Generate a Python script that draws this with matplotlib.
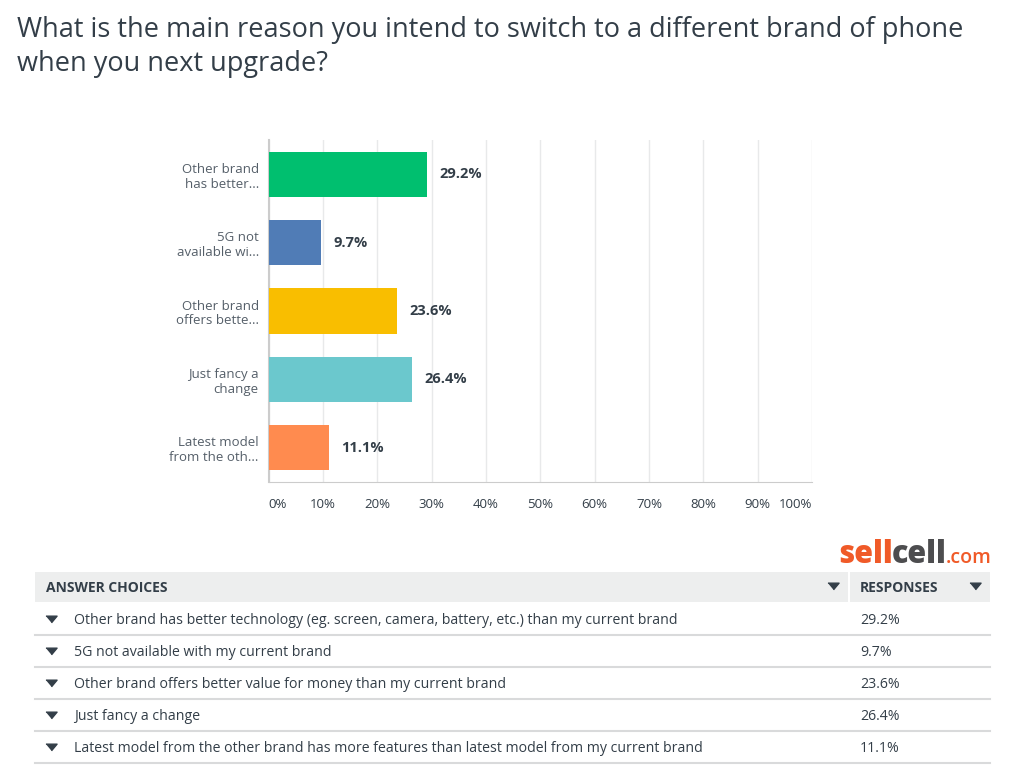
import matplotlib
matplotlib.use("Agg")
import matplotlib.pyplot as plt
from matplotlib.patches import Rectangle
from matplotlib.lines import Line2D

plt.rcParams['font.family'] = ['Open Sans', 'DejaVu Sans']

title = "What is the main reason you intend to switch to a different brand of phone\nwhen you next upgrade?"
short_labels = ["Other brand\nhas better...", "5G not\navailable wi...", "Other brand\noffers bette...",
                "Just fancy a\nchange", "Latest model\nfrom the oth..."]
full_labels = [
    "Other brand has better technology (eg. screen, camera, battery, etc.) than my current brand",
    "5G not available with my current brand",
    "Other brand offers better value for money than my current brand",
    "Just fancy a change",
    "Latest model from the other brand has more features than latest model from my current brand",
]
values = [29.2, 9.7, 23.6, 26.4, 11.1]
colors = ["#00BF6F", "#507CB6", "#F9BE00", "#6BC8CD", "#FF8B4F"]
xticks = [0, 10, 20, 30, 40, 50, 60, 70, 80, 90, 100]

W, H = 1024, 777
fig = plt.figure(figsize=(W / 100, H / 100), dpi=100)
fig.patch.set_facecolor("white")

def fx(x): return x / W
def fy(y): return 1 - y / H

# Title
fig.text(fx(17), fy(16), title, ha="left", va="top", fontsize=19.5, color="#333E48",
         linespacing=1.3)

# Chart axes
ax = fig.add_axes([fx(268.5), fy(482), fx(812) - fx(268.5), fy(140) - fy(482)])
n = len(values)
ypos = list(range(n))
ax.barh(ypos, values, height=0.66, color=colors, zorder=3)
ax.set_xlim(0, 100)
ax.set_ylim(n - 0.5, -0.5)
ax.set_xticks(xticks)
ax.set_xticklabels([f"{t}%" for t in xticks])
for i, lab in enumerate(ax.get_xticklabels()):
    if i == 0:
        lab.set_ha("left")
    elif i == len(xticks) - 1:
        lab.set_ha("right")
ax.tick_params(axis="x", length=0, pad=11.5, labelsize=9.5, labelcolor="#333E48")
ax.set_yticks(ypos)
ax.set_yticklabels(short_labels)
ax.tick_params(axis="y", length=0, pad=7, labelsize=9.5, labelcolor="#555F69")
for lab in ax.get_yticklabels():
    lab.set_ha("right")
    lab.set_multialignment("right")
ax.grid(axis="x", color="#E8E9EA", linewidth=1, zorder=0)
for s in ["top", "right"]:
    ax.spines[s].set_visible(False)
ax.spines["left"].set_color("#CCCCCC")
ax.spines["bottom"].set_color("#CCCCCC")
ax.spines["left"].set_linewidth(1.5)
for yi, v in zip(ypos, values):
    ax.annotate(f"{v}%", (v, yi), xytext=(9, 0), textcoords="offset points",
                ha="left", va="center", fontsize=10.5, fontweight="bold", color="#333E48")

# Logo
t1 = fig.text(fx(838), fy(563), "sell", ha="left", va="baseline", fontsize=22,
              fontweight="heavy", color="#F05A28")
fig.canvas.draw()
r = fig.canvas.get_renderer()
bb = t1.get_window_extent(r)
t2 = fig.text(bb.x1 / W - 0.001, fy(563), "cell", ha="left", va="baseline", fontsize=22,
              fontweight="heavy", color="#4D4D4F")
bb2 = t2.get_window_extent(r)
fig.text(bb2.x1 / W - 0.001, fy(563), ".com", ha="left", va="baseline", fontsize=14,
         fontweight="semibold", color="#F05A28")

# Table header
fig.add_artist(Rectangle((fx(35), fy(602)), fx(848) - fx(35), fy(572) - fy(602),
                         transform=fig.transFigure, facecolor="#EDEEEE", edgecolor="none"))
fig.add_artist(Rectangle((fx(850), fy(602)), fx(990) - fx(850), fy(572) - fy(602),
                         transform=fig.transFigure, facecolor="#EDEEEE", edgecolor="none"))
fig.text(fx(46), fy(588), "ANSWER CHOICES", ha="left", va="center", fontsize=10,
         fontweight="bold", color="#333E48")
fig.text(fx(860), fy(588), "RESPONSES", ha="left", va="center", fontsize=10,
         fontweight="bold", color="#333E48")
tri = [(-1, 0.6), (1, 0.6), (0, -0.6)]
for xh in (833, 975):
    fig.add_artist(Line2D([fx(xh)], [fy(586)], marker=tri, markersize=8, color="#333E48",
                          transform=fig.transFigure, linestyle="none"))

row_h = 32
for i, (lab, v) in enumerate(zip(full_labels, values)):
    yc = 603 + row_h * i + row_h / 2
    fig.add_artist(Line2D([fx(51)], [fy(yc)], marker=tri, markersize=8, color="#333E48",
                          transform=fig.transFigure, linestyle="none"))
    fig.text(fx(74), fy(yc + 1.5), lab, ha="left", va="center", fontsize=10.2, color="#333E48")
    fig.text(fx(860), fy(yc + 1.5), f"{v}%", ha="left", va="center", fontsize=10.2, color="#333E48")
    yl = 603 + row_h * (i + 1)
    fig.add_artist(Line2D([fx(35), fx(990)], [fy(yl), fy(yl)], color="#D9DADB", linewidth=1.5,
                          transform=fig.transFigure))

fig.savefig("out.png", dpi=100, facecolor="white")
